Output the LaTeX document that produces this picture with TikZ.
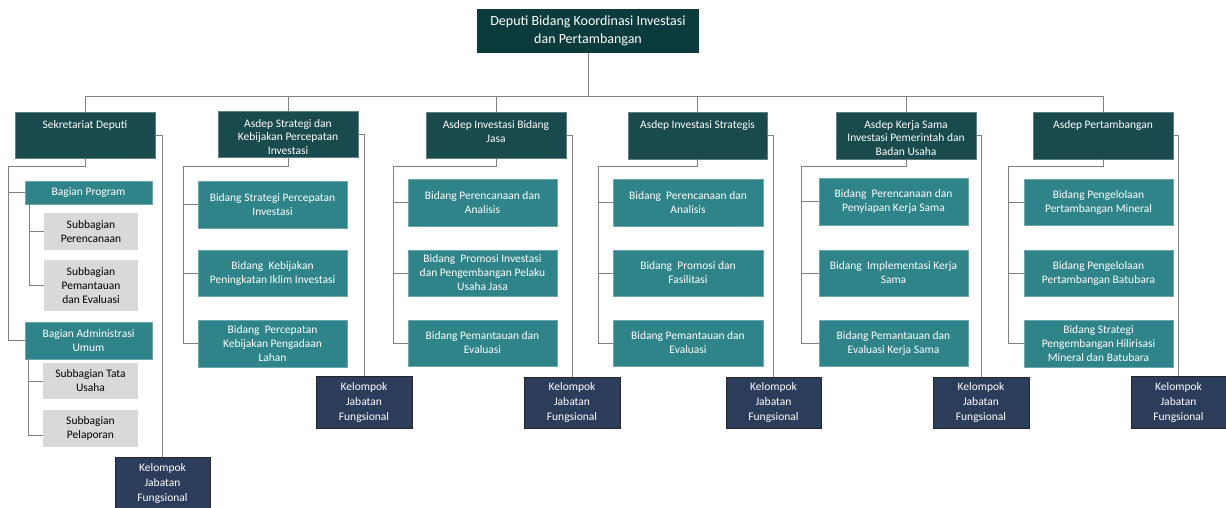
\documentclass[tikz,border=0pt]{standalone}
\usepackage{fontspec}
\setmainfont{Carlito}
\usetikzlibrary{calc}
\definecolor{topcol}{HTML}{0B3B3C}
\definecolor{asdepcol}{HTML}{194A4D}
\definecolor{bidcol}{HTML}{2E8489}
\definecolor{kelcol}{HTML}{2C3D5C}
\definecolor{subcol}{HTML}{D9D9D9}
\definecolor{linecol}{HTML}{808080}
\tikzset{
  box/.style={anchor=north west, inner sep=0pt, outer sep=0pt},
  txt/.style={font=\fontsize{11.5}{14}\selectfont, align=center},
  topbox/.style={box, fill=topcol, text=white, align=center, font=\fontsize{14}{17.5}\selectfont},
  asdepbox/.style={box, fill=asdepcol, draw=asdepcol!70!white, line width=0.5pt},
  asdeptxt/.style={txt, anchor=north, inner sep=0pt, text=white, font=\fontsize{11.5}{13.5}\selectfont},
  bidbox/.style={box, txt, fill=bidcol, draw=bidcol!70!white, line width=0.5pt, text=white},
  kelbox/.style={box, txt, fill=kelcol, draw=black!85, line width=1pt, text=white, font=\fontsize{11.5}{15}\selectfont},
  subbox/.style={box, txt, fill=subcol, text=black},
  conn/.style={draw=linecol, line width=0.9pt},
}
\begin{document}
\begin{tikzpicture}[x=1pt, y=-1pt]
\useasboundingbox (0,0) rectangle (1226,507);
% top
\node[topbox, minimum width=222pt, minimum height=44pt] (top) at (477,9) {Deputi Bidang Koordinasi Investasi\\dan Pertambangan};
% asdep boxes
\node[asdepbox, minimum width=140pt, minimum height=46pt] (sek) at (15,112) {};
\node[asdepbox, minimum width=140pt, minimum height=46pt] (a2) at (218,111) {};
\node[asdepbox, minimum width=140pt, minimum height=46pt] (a3) at (426,112) {};
\node[asdepbox, minimum width=139pt, minimum height=47pt] (a4) at (628,112) {};
\node[asdepbox, minimum width=140pt, minimum height=47pt] (a5) at (836,112) {};
\node[asdepbox, minimum width=140pt, minimum height=47pt] (a6) at (1033,112) {};
\node[asdeptxt] (sekt) at ($(sek.north)+(0,8.5)$) {Sekretariat Deputi};
\node[asdeptxt] (a2t) at ($(a2.north)+(0,8)$) {Asdep Strategi dan\\Kebijakan Percepatan\\Investasi};
\node[asdeptxt] (a3t) at ($(a3.north)+(0,8.5)$) {Asdep Investasi Bidang\\Jasa};
\node[asdeptxt] (a4t) at ($(a4.north)+(0,8.5)$) {Asdep Investasi Strategis};
\node[asdeptxt] (a5t) at ($(a5.north)+(0,8)$) {Asdep Kerja Sama\\Investasi Pemerintah dan\\Badan Usaha};
\node[asdeptxt] (a6t) at ($(a6.north)+(0,8.5)$) {Asdep Pertambangan};
% bidang column 2
\node[bidbox, minimum width=149pt, minimum height=47pt] (b21) at (198,181) {Bidang Strategi Percepatan\\Investasi};
\node[bidbox, minimum width=149pt, minimum height=46pt] (b22) at (198,250) {Bidang\ \ Kebijakan\\Peningkatan Iklim Investasi};
\node[bidbox, minimum width=149pt, minimum height=47pt] (b23) at (198,320) {Bidang\ \ Percepatan\\Kebijakan Pengadaan\\Lahan};
% column 3
\node[bidbox, minimum width=149pt, minimum height=47pt] (b31) at (408,179) {Bidang Perencanaan dan\\Analisis};
\node[bidbox, minimum width=149pt, minimum height=46pt] (b32) at (408,250) {Bidang\ \ Promosi Investasi\\dan Pengembangan Pelaku\\Usaha Jasa};
\node[bidbox, minimum width=149pt, minimum height=46pt] (b33) at (408,320) {Bidang Pemantauan dan\\Evaluasi};
% column 4
\node[bidbox, minimum width=150pt, minimum height=47pt] (b41) at (613,179) {Bidang\ \ Perencanaan dan\\Analisis};
\node[bidbox, minimum width=150pt, minimum height=46pt] (b42) at (613,250) {Bidang\ \ Promosi dan\\Fasilitasi};
\node[bidbox, minimum width=150pt, minimum height=46pt] (b43) at (613,320) {Bidang Pemantauan dan\\Evaluasi};
% column 5
\node[bidbox, minimum width=149pt, minimum height=47pt] (b51) at (819,178) {Bidang\ \ Perencanaan dan\\Penyiapan Kerja Sama};
\node[bidbox, minimum width=149pt, minimum height=46pt] (b52) at (819,250) {Bidang\ \ Implementasi Kerja\\Sama};
\node[bidbox, minimum width=149pt, minimum height=46pt] (b53) at (819,320) {Bidang Pemantauan dan\\Evaluasi Kerja Sama};
% column 6
\node[bidbox, minimum width=149pt, minimum height=46pt] (b61) at (1024,179) {Bidang Pengelolaan\\Pertambangan Mineral};
\node[bidbox, minimum width=149pt, minimum height=46pt] (b62) at (1024,250) {Bidang Pengelolaan\\Pertambangan Batubara};
\node[bidbox, minimum width=149pt, minimum height=47pt] (b63) at (1024,320) {Bidang Strategi\\Pengembangan Hilirisasi\\Mineral dan Batubara};
% sekretariat children
\node[bidbox, minimum width=127pt, minimum height=23pt] (bp) at (25,181) {Bagian Program};
\node[bidbox, minimum width=127pt, minimum height=37pt] (bad) at (25,322) {Bagian Administrasi\\Umum};
\node[subbox, minimum width=94pt, minimum height=37pt] (sp1) at (44,213) {Subbagian\\Perencanaan};
\node[subbox, minimum width=94pt, minimum height=51pt] (sp2) at (44,260) {Subbagian\\Pemantauan\\dan Evaluasi};
\node[subbox, minimum width=95pt, minimum height=36pt] (st1) at (43,363) {Subbagian Tata\\Usaha};
\node[subbox, minimum width=95pt, minimum height=37pt] (st2) at (43,410) {Subbagian\\Pelaporan};
% kelompok
\node[kelbox, minimum width=95pt, minimum height=52pt] (k1) at (115,457) {Kelompok\\Jabatan\\Fungsional};
\node[kelbox, minimum width=96pt, minimum height=52pt] (k2) at (316,376) {Kelompok\\Jabatan\\Fungsional};
\node[kelbox, minimum width=96pt, minimum height=51pt] (k3) at (524,377) {Kelompok\\Jabatan\\Fungsional};
\node[kelbox, minimum width=95pt, minimum height=51pt] (k4) at (726,377) {Kelompok\\Jabatan\\Fungsional};
\node[kelbox, minimum width=96pt, minimum height=51pt] (k5) at (933,377) {Kelompok\\Jabatan\\Fungsional};
\node[kelbox, minimum width=95pt, minimum height=52pt] (k6) at (1131,376) {Kelompok\\Jabatan\\Fungsional};
% connectors: top bus
\coordinate (bus) at (0,96);
\draw[conn] (top.south) -- (top.south |- bus);
\draw[conn] (sek.north) -- (sek.north |- bus) -- (a6.north |- bus) -- (a6.north);
\foreach \n in {a2,a3,a4,a5} \draw[conn] (\n.north) -- (\n.north |- bus);
% side lines to kelompok
\draw[conn] (sek.east) -| (k1.north);
\draw[conn] (a2.east) -| (k2.north);
\draw[conn] (a3.east) -| (k3.north);
\draw[conn] (a4.east) -| (k4.north);
\draw[conn] (a5.east) -| (k5.north);
\draw[conn] (a6.east) -| (k6.north);
% rails
\coordinate (r2) at (183,166);
\coordinate (r3) at (393,166);
\coordinate (r4) at (598,166);
\coordinate (r5) at (801,166);
\coordinate (r6) at (1008,166);
\foreach \c in {2,...,6} {
  \draw[conn] (a\c.south) |- (r\c) |- (b\c3.west);
  \draw[conn] (r\c |- b\c1.west) -- (b\c1.west);
  \draw[conn] (r\c |- b\c2.west) -- (b\c2.west);
}
% sekretariat rails
\coordinate (rs) at (8,166);
\draw[conn] (sek.south) |- (rs) |- (bad.west);
\draw[conn] (rs |- bp.west) -- (bp.west);
\coordinate (rp) at (29,204);
\draw[conn] (rp) |- (sp2.west);
\draw[conn] (rp |- sp1.west) -- (sp1.west);
\coordinate (ra) at (28,359);
\draw[conn] (ra) |- ($(st2.west)+(0,7)$);
\draw[conn] (ra |- st1.west) -- (st1.west);
\end{tikzpicture}
\end{document}
